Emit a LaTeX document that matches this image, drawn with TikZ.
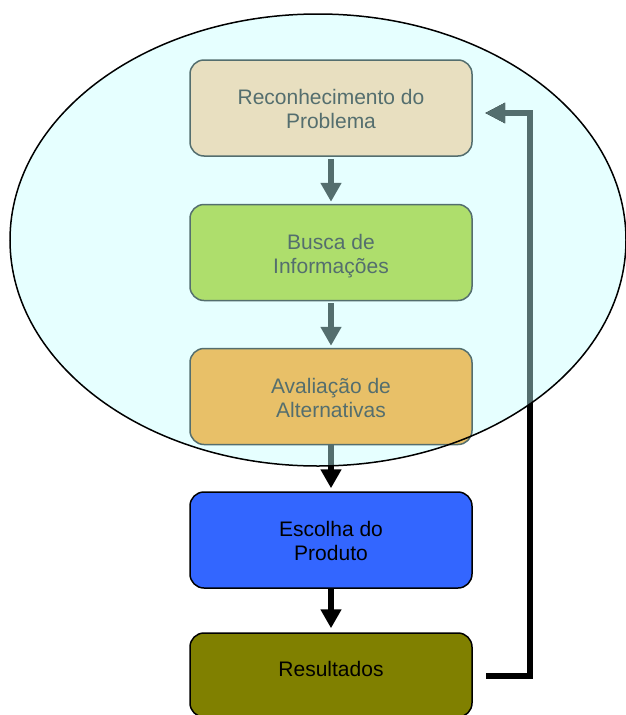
\documentclass[tikz,border=0pt]{standalone}
\usepackage{fontspec}
\setmainfont{Liberation Sans}
\usetikzlibrary{arrows.meta}
\definecolor{ellfill}{HTML}{E6FFFF}
\definecolor{grayc}{HTML}{546E6E}
\definecolor{tanc}{HTML}{E8DFC0}
\definecolor{greenc}{HTML}{AEDE6C}
\definecolor{orangec}{HTML}{E8C068}
\definecolor{bluec}{HTML}{3366FF}
\definecolor{olivec}{HTML}{808000}
\begin{document}
\begin{tikzpicture}[x=1pt,y=-1pt,
  box/.style={draw, line width=1.5pt, rounded corners=14pt, minimum width=282pt, minimum height=96pt, align=center, font=\fontsize{21}{24}\selectfont, inner sep=0pt, text height=41pt, text depth=0pt},
  inbox/.style={box, draw=grayc, text=grayc},
  outbox/.style={box, draw=black, text=black},
  flow/.style={line width=6pt, -{Triangle[width=20pt,length=19pt]}},
  backflow/.style={line width=6pt, line join=miter, -{Triangle[width=19pt,length=20pt]}},
]
\clip (0,0) rectangle (626,715);
\useasboundingbox (0,0) rectangle (626,715);
\fill[ellfill] (318,240) ellipse [x radius=308pt, y radius=226pt];

\node[inbox, fill=tanc] (b1) at (331,108) {Reconhecimento do\\Problema};
\node[inbox, fill=greenc] (b2) at (331,252.5) {Busca de\\Informações};
\node[inbox, fill=orangec] (b3) at (331,396.5) {Avaliação de\\Alternativas};
\node[outbox, fill=bluec] (b4) at (331,540) {Escolha do\\Produto};
\node[outbox, fill=olivec, minimum height=84pt, text height=2pt, text depth=0pt] (b5) at (331,675) {Resultados};

\coordinate (fbs) at (486,676);
\coordinate (fbc) at (530,113);
\coordinate (fbe) at (485,113);

\draw[flow, grayc, shorten <=2pt, shorten >=2pt] (b1) -- (b2);
\draw[flow, grayc, shorten <=2pt, shorten >=2pt] (b2) -- (b3);
\draw[flow, black, shorten >=3pt] (b3) -- (b4);
\draw[flow, black, shorten >=4pt] (b4) -- (b5);
\draw[backflow, black] (fbs) -| (fbc) -- (fbe);

\begin{scope}
  \clip (318,240) ellipse [x radius=308pt, y radius=226pt];
  \draw[flow, grayc, shorten >=3pt] (b3) -- (b4);
  \draw[backflow, grayc] (fbs) -| (fbc) -- (fbe);
\end{scope}

\draw[line width=1.5pt] (318,240) ellipse [x radius=308pt, y radius=226pt];
\end{tikzpicture}
\end{document}
